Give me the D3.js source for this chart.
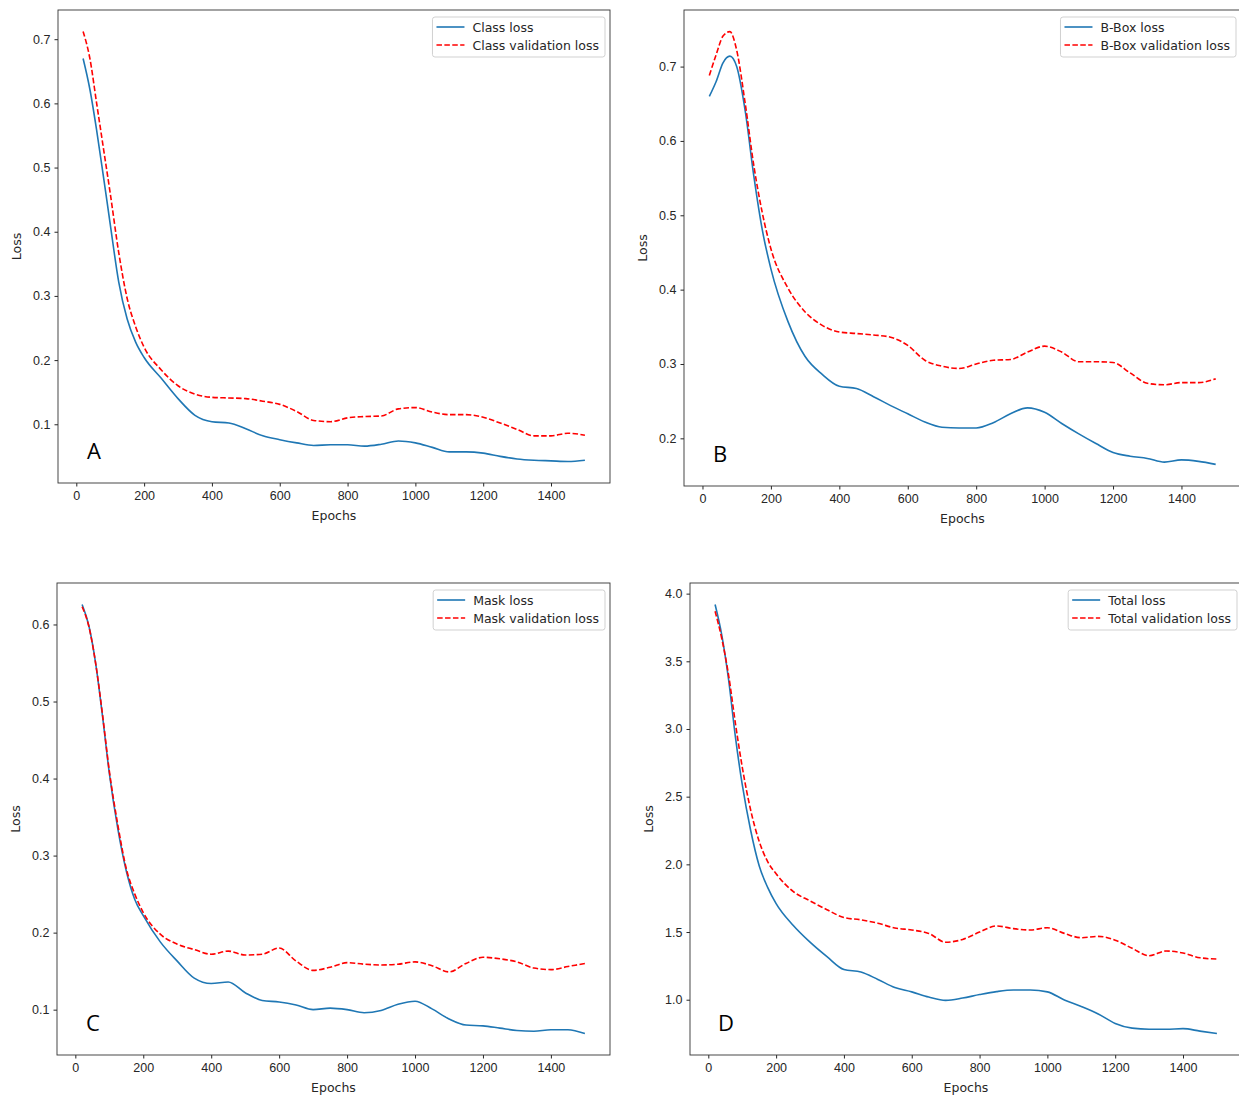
<!DOCTYPE html>
<html>
<head>
<meta charset="utf-8">
<script src="https://cdn.jsdelivr.net/npm/d3@7"></script>
<style>
  body { margin: 0; background: #fff; }
  svg { display: block; font-family: "DejaVu Sans", sans-serif; }
  .tick text { font-size: 12.5px; fill: #262626; }
  .tick line { stroke: #262626; }
  .axis-label { font-size: 12.5px; fill: #262626; }
  .legend text { font-size: 12.5px; fill: #262626; }
  .panel-letter { font-family: "Open Sans", sans-serif; font-size: 22px; fill: #000; }
</style>
</head>
<body>
<svg width="1239" height="1097"></svg>
<script>
// Epochs the curves were read at
const epochs = [20, 40, 60, 80, 100, 125, 150, 175, 200, 250, 300, 350, 400, 450, 500, 550, 600, 650,
  700, 750, 800, 850, 900, 950, 1000, 1050, 1100, 1150, 1200, 1250, 1300, 1350, 1400, 1450, 1500];

// A - class loss
const classLoss = [0.670, 0.622, 0.558, 0.486, 0.412, 0.322, 0.264, 0.228, 0.204, 0.172, 0.140, 0.114, 0.104, 0.102,
  0.093, 0.082, 0.076, 0.071, 0.067, 0.068, 0.068, 0.066, 0.069, 0.074, 0.071, 0.064, 0.057, 0.057, 0.055,
  0.050, 0.046, 0.044, 0.043, 0.042, 0.044];
const classValLoss = [0.712, 0.670, 0.600, 0.530, 0.460, 0.368, 0.296, 0.252, 0.220, 0.185, 0.160, 0.147, 0.142, 0.141,
  0.140, 0.136, 0.131, 0.120, 0.106, 0.104, 0.110, 0.112, 0.113, 0.124, 0.126, 0.119, 0.115, 0.115, 0.111,
  0.102, 0.092, 0.082, 0.082, 0.086, 0.083];

// B - bounding box loss
const bboxLoss = [0.660, 0.680, 0.705, 0.714, 0.700, 0.640, 0.553, 0.480, 0.428, 0.357, 0.310, 0.286, 0.270, 0.267,
  0.256, 0.244, 0.233, 0.222, 0.215, 0.214, 0.214, 0.221, 0.233, 0.241, 0.235, 0.220, 0.206, 0.193, 0.181,
  0.176, 0.173, 0.168, 0.171, 0.169, 0.165];
const bboxValLoss = [0.688, 0.716, 0.741, 0.747, 0.722, 0.650, 0.567, 0.503, 0.455, 0.402, 0.370, 0.352, 0.343, 0.341,
  0.339, 0.336, 0.325, 0.305, 0.297, 0.294, 0.300, 0.305, 0.306, 0.316, 0.324, 0.316, 0.303, 0.303, 0.302,
  0.288, 0.274, 0.272, 0.275, 0.275, 0.280];

// C - mask loss
const maskLoss = [0.626, 0.598, 0.549, 0.481, 0.407, 0.335, 0.280, 0.243, 0.222, 0.188, 0.163, 0.141, 0.134, 0.136,
  0.122, 0.112, 0.110, 0.106, 0.100, 0.102, 0.100, 0.096, 0.099, 0.107, 0.111, 0.101, 0.088, 0.080, 0.079,
  0.076, 0.073, 0.072, 0.074, 0.074, 0.069];
const maskValLoss = [0.623, 0.597, 0.549, 0.483, 0.410, 0.340, 0.283, 0.250, 0.226, 0.198, 0.185, 0.178, 0.172, 0.176,
  0.171, 0.172, 0.180, 0.163, 0.151, 0.155, 0.161, 0.159, 0.158, 0.159, 0.162, 0.157, 0.149, 0.160, 0.168,
  0.166, 0.162, 0.154, 0.152, 0.156, 0.160];

// D - total loss
const totalLoss = [3.920, 3.690, 3.360, 2.940, 2.590, 2.250, 1.990, 1.830, 1.710, 1.550, 1.425, 1.318, 1.223, 1.205,
  1.150, 1.090, 1.058, 1.020, 0.995, 1.012, 1.038, 1.060, 1.072, 1.072, 1.058, 0.998, 0.950, 0.895, 0.825,
  0.790, 0.782, 0.782, 0.786, 0.768, 0.750];
const totalValLoss = [3.870, 3.665, 3.395, 3.040, 2.720, 2.400, 2.170, 2.020, 1.930, 1.800, 1.730, 1.665, 1.607, 1.590,
  1.565, 1.530, 1.515, 1.490, 1.425, 1.445, 1.500, 1.545, 1.525, 1.515, 1.532, 1.490, 1.458, 1.468, 1.440,
  1.380, 1.325, 1.360, 1.345, 1.310, 1.300];

// Tick labels
const xTicks = [0, 200, 400, 600, 800, 1000, 1200, 1400];
const yTicksA = [0.1, 0.2, 0.3, 0.4, 0.5, 0.6, 0.7];
const yTicksB = [0.2, 0.3, 0.4, 0.5, 0.6, 0.7];
const yTicksC = [0.1, 0.2, 0.3, 0.4, 0.5, 0.6];
const yTicksD = [1.0, 1.5, 2.0, 2.5, 3.0, 3.5, 4.0];

const svg = d3.select("svg");
svg.append("rect").attr("width", 1239).attr("height", 1097).attr("fill", "#fff");

// Frame of each subplot, in page pixels
const panels = [
  { letter: "A", train: classLoss, val: classValLoss, names: ["Class loss", "Class validation loss"],
    yTicks: yTicksA, frame: { left: 58, top: 10, right: 610, bottom: 483 } },
  { letter: "B", train: bboxLoss, val: bboxValLoss, names: ["B-Box loss", "B-Box validation loss"],
    yTicks: yTicksB, frame: { left: 684, top: 10, right: 1241, bottom: 486 } },
  { letter: "C", train: maskLoss, val: maskValLoss, names: ["Mask loss", "Mask validation loss"],
    yTicks: yTicksC, frame: { left: 57, top: 583, right: 610, bottom: 1055 } },
  { letter: "D", train: totalLoss, val: totalValLoss, names: ["Total loss", "Total validation loss"],
    yTicks: yTicksD, frame: { left: 690, top: 583, right: 1242, bottom: 1055 } }
];

const trainColor = "#1f77b4";
const valColor = "#ff0000";

// matplotlib-style 5% margin around the data
function padded(ext) {
  const m = (ext[1] - ext[0]) * 0.05;
  return [ext[0] - m, ext[1] + m];
}

panels.forEach(p => {
  const f = p.frame;
  const g = svg.append("g").attr("class", "panel-" + p.letter);

  const x = d3.scaleLinear()
    .domain(padded(d3.extent(epochs)))
    .range([f.left, f.right]);
  const y = d3.scaleLinear()
    .domain(padded(d3.extent(p.train.concat(p.val))))
    .range([f.bottom, f.top]);

  // axes
  g.append("g")
    .attr("transform", `translate(0, ${f.bottom})`)
    .call(d3.axisBottom(x).tickValues(xTicks).tickFormat(d3.format("d"))
      .tickSize(3.5).tickPadding(5).tickSizeOuter(0))
    .call(a => a.select(".domain").remove());
  g.append("g")
    .attr("transform", `translate(${f.left}, 0)`)
    .call(d3.axisLeft(y).tickValues(p.yTicks).tickFormat(d3.format(".1f"))
      .tickSize(3.5).tickPadding(4).tickSizeOuter(0))
    .call(a => a.select(".domain").remove());

  // lines
  const line = arr => d3.line()
    .x((d, i) => x(epochs[i]))
    .y(d => y(d))
    .curve(d3.curveMonotoneX)(arr);

  g.append("path")
    .attr("d", line(p.train))
    .attr("fill", "none")
    .attr("stroke", trainColor)
    .attr("stroke-width", 1.6);
  g.append("path")
    .attr("d", line(p.val))
    .attr("fill", "none")
    .attr("stroke", valColor)
    .attr("stroke-width", 1.6)
    .attr("stroke-dasharray", "5.5,2.4");

  // frame
  g.append("rect")
    .attr("x", f.left).attr("y", f.top)
    .attr("width", f.right - f.left).attr("height", f.bottom - f.top)
    .attr("fill", "none")
    .attr("stroke", "#333")
    .attr("stroke-width", 0.9);

  // axis titles
  g.append("text")
    .attr("class", "axis-label")
    .attr("x", (f.left + f.right) / 2)
    .attr("y", f.bottom + 37)
    .attr("text-anchor", "middle")
    .text("Epochs");
  g.append("text")
    .attr("class", "axis-label")
    .attr("transform", `translate(${f.left - 37}, ${(f.top + f.bottom) / 2}) rotate(-90)`)
    .attr("text-anchor", "middle")
    .text("Loss");

  // legend
  const leg = g.append("g").attr("class", "legend");
  const box = leg.append("rect")
    .attr("fill", "#fff").attr("fill-opacity", 0.8)
    .attr("stroke", "#cccccc").attr("stroke-width", 0.9)
    .attr("rx", 2.5);
  const texts = p.names.map((name, i) => leg.append("text")
    .attr("x", 40)
    .attr("y", 14.5 + i * 18)
    .text(name));
  const textW = d3.max(texts, t => t.node().getComputedTextLength());
  const boxW = 40 + textW + 6;
  box.attr("width", boxW).attr("height", 40);
  [trainColor, valColor].forEach((c, i) => {
    leg.append("line")
      .attr("x1", 4).attr("x2", 32)
      .attr("y1", 10 + i * 18).attr("y2", 10 + i * 18)
      .attr("stroke", c).attr("stroke-width", 1.6)
      .attr("stroke-dasharray", i === 1 ? "5.5,2.4" : null);
  });
  leg.attr("transform", `translate(${f.right - 5 - boxW}, ${f.top + 7})`);

  // panel letter
  g.append("text")
    .attr("class", "panel-letter")
    .attr("x", f.left + 36)
    .attr("y", f.bottom - 24)
    .attr("text-anchor", "middle")
    .text(p.letter);
});
</script>
</body>
</html>
